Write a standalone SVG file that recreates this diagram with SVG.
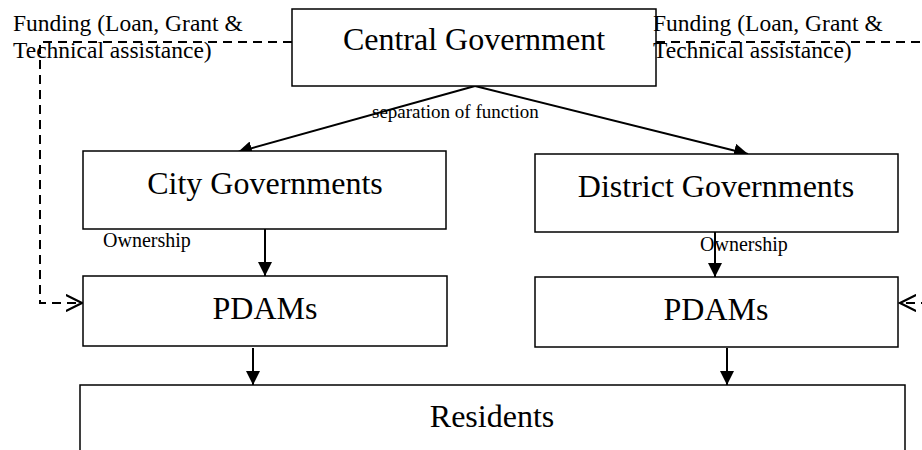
<svg xmlns="http://www.w3.org/2000/svg" width="922" height="450" viewBox="0 0 922 450">
<defs>
<marker id="solid" viewBox="0 0 10 10" refX="10" refY="5" markerWidth="7" markerHeight="7" markerUnits="strokeWidth" orient="auto">
<path d="M0,0 L10,5 L0,10 Z" fill="#000"/>
</marker>
<marker id="open" viewBox="0 0 10 10" refX="9" refY="5" markerWidth="9" markerHeight="9" markerUnits="strokeWidth" orient="auto">
<path d="M0,0.5 L9,5 L0,9.5" fill="none" stroke="#000" stroke-width="1.2"/>
</marker>
</defs>
<style>
.box{fill:#fff;stroke:#000;stroke-width:1.5}
.big{font-family:"Liberation Serif","Times New Roman",serif;font-size:32px;fill:#000;text-anchor:middle}
.small{font-family:"Liberation Serif","Times New Roman",serif;fill:#000}
.solid{fill:none;stroke:#000;stroke-width:2;marker-end:url(#solid)}
.dash{fill:none;stroke:#000;stroke-width:2;stroke-dasharray:9 6;marker-end:url(#open)}
</style>
<rect width="922" height="450" fill="#fff"/>
<g id="connectors">
<path class="dash" d="M292,42 H40 V303 H82"/>
<path class="dash" d="M656,42 H940 V303 H900"/>
<path class="solid" d="M475,86 L238,152"/>
<path class="solid" d="M475,86 L748,154"/>
<path class="solid" d="M265,229 V276"/>
<path class="solid" d="M715,232 V277"/>
<path class="solid" d="M253,348 V385"/>
<path class="solid" d="M727,348 V385"/>
</g>
<g id="central">
<rect class="box" x="292" y="9" width="364" height="77"/>
<text class="big" x="474" y="50">Central Government</text>
</g>
<g id="city">
<rect class="box" x="83" y="151" width="363" height="78"/>
<text class="big" x="265" y="194">City Governments</text>
</g>
<g id="district">
<rect class="box" x="535" y="154" width="363" height="78"/>
<text class="big" x="716" y="197">District Governments</text>
</g>
<g id="pdams-city">
<rect class="box" x="83" y="276" width="364" height="70"/>
<text class="big" x="265" y="319" font-size="31">PDAMs</text>
</g>
<g id="pdams-district">
<rect class="box" x="535" y="277" width="363" height="70"/>
<text class="big" x="716" y="320" font-size="31">PDAMs</text>
</g>
<g id="residents">
<rect class="box" x="80" y="385" width="825" height="80"/>
<text class="big" x="492" y="427">Residents</text>
</g>
<g id="labels">
<text class="small" x="13" y="31" font-size="23.5">Funding (Loan, Grant &amp;</text>
<text class="small" x="13" y="58" font-size="23.5">Technical assistance)</text>
<text class="small" x="653" y="31" font-size="23.5">Funding (Loan, Grant &amp;</text>
<text class="small" x="653" y="58" font-size="23.5">Technical assistance)</text>
<text class="small" x="372" y="118" font-size="19">separation of function</text>
<text class="small" x="103" y="247" font-size="20">Ownership</text>
<text class="small" x="700" y="251" font-size="20">Ownership</text>
</g>
</svg>
